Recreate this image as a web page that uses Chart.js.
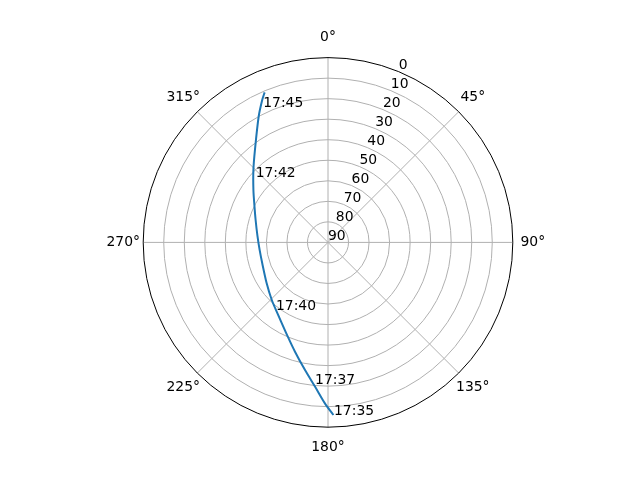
<!DOCTYPE html>
<html>
<head>
<meta charset="utf-8">
<script src="https://cdn.jsdelivr.net/npm/chart.js@4/dist/chart.umd.min.js"></script>
<style>
  html, body { margin: 0; padding: 0; background: #fff; }
  canvas { display: block; }
</style>
</head>
<body>
<canvas id="chart" width="640" height="480"></canvas>
<script>
// Satellite pass sky plot (azimuth clockwise from north, elevation 90 at centre)
const azimuthDeg   = [178.2, 181.1, 185.1, 190.2, 196.8, 203.1, 214.4, 224.3, 236.3, 252.4, 263.7, 275.2, 287.2, 296.9, 305.1, 314.1, 321.7, 331.1, 335.2, 337.1];
const elevationDeg = [5.9,   11.6,  19.4,  26.8,  34.4,  40.1,  47.1,  50.8,  54.1,  56.4,  56.5,  55.5,  53.1,  49.8,  45.6,  39.4,  32.6,  20.1,  13.6,  10.7];

const labelTimes = ['17:35', '17:37', '17:40', '17:42', '17:45'];
const labelAz    = [178.0, 185.2, 217.6, 312.0, 334.4];
const labelEl    = [5.9,   20.7,  48.5,  42.6,  17.0];

const radialTicks = [0, 10, 20, 30, 40, 50, 60, 70, 80, 90];
const angleTicks  = [0, 45, 90, 135, 180, 225, 270, 315];

const FONT = '13.9px "DejaVu Sans"';

// polar (az, el) -> chart x/y values
function toXY(az, el) {
    const r = 90 - el;
    const a = az * Math.PI / 180;
    return { x: r * Math.sin(a), y: r * Math.cos(a) };
}

const passPoints = azimuthDeg.map((az, i) => toXY(az, elevationDeg[i]));

// ============================================
// Polar grid + labels plugin
// ============================================
const polarGrid = {
    id: 'polarGrid',
    beforeDatasetsDraw(chart) {
        const ctx = chart.ctx;
        const xs = chart.scales.x, ys = chart.scales.y;
        const cx = xs.getPixelForValue(0), cy = ys.getPixelForValue(0);

        ctx.save();
        ctx.strokeStyle = '#b0b0b0';
        ctx.lineWidth = 1;
        // spokes
        angleTicks.forEach(t => {
            const p = toXY(t, 0);
            ctx.beginPath();
            ctx.moveTo(cx, cy);
            ctx.lineTo(xs.getPixelForValue(p.x), ys.getPixelForValue(p.y));
            ctx.stroke();
        });
        // rings
        radialTicks.forEach(el => {
            if (el === 0 || el === 90) return;
            const r = xs.getPixelForValue(90 - el) - cx;
            ctx.beginPath();
            ctx.arc(cx, cy, r, 0, Math.PI * 2);
            ctx.stroke();
        });
        ctx.restore();
    },
    afterDatasetsDraw(chart) {
        const ctx = chart.ctx;
        const xs = chart.scales.x, ys = chart.scales.y;
        const cx = xs.getPixelForValue(0), cy = ys.getPixelForValue(0);
        const R = xs.getPixelForValue(90) - cx;

        ctx.save();
        // outer spine
        ctx.strokeStyle = '#000';
        ctx.lineWidth = 1;
        ctx.beginPath();
        ctx.arc(cx, cy, R, 0, Math.PI * 2);
        ctx.stroke();

        ctx.fillStyle = '#000';
        ctx.font = FONT;

        // angle labels
        ctx.textAlign = 'center';
        ctx.textBaseline = 'middle';
        angleTicks.forEach(t => {
            const a = t * Math.PI / 180;
            ctx.fillText(t + '°', cx + (R + 20) * Math.sin(a), cy - (R + 20) * Math.cos(a));
        });

        // radial labels along 22.5°
        ctx.textAlign = 'left';
        ctx.textBaseline = 'bottom';
        radialTicks.forEach(el => {
            const p = toXY(22.5, el);
            ctx.fillText(String(el), xs.getPixelForValue(p.x), ys.getPixelForValue(p.y) + 1);
        });

        // time labels
        ctx.textBaseline = 'alphabetic';
        labelTimes.forEach((txt, i) => {
            const p = toXY(labelAz[i], labelEl[i]);
            ctx.fillText(txt, xs.getPixelForValue(p.x), ys.getPixelForValue(p.y));
        });
        ctx.restore();
    }
};

new Chart(document.getElementById('chart'), {
    type: 'scatter',
    data: {
        datasets: [{
            data: passPoints,
            showLine: true,
            borderColor: '#1f77b4',
            borderWidth: 2,
            pointRadius: 0,
            tension: 0.3,
            fill: false
        }]
    },
    options: {
        responsive: false,
        animation: false,
        devicePixelRatio: 1,
        layout: { padding: { left: 143.2, right: 127.2, top: 57.6, bottom: 52.8 } },
        plugins: {
            legend: { display: false },
            tooltip: { enabled: false }
        },
        scales: {
            x: { type: 'linear', min: -90, max: 90, display: false },
            y: { type: 'linear', min: -90, max: 90, display: false }
        }
    },
    plugins: [polarGrid]
});
</script>
</body>
</html>
